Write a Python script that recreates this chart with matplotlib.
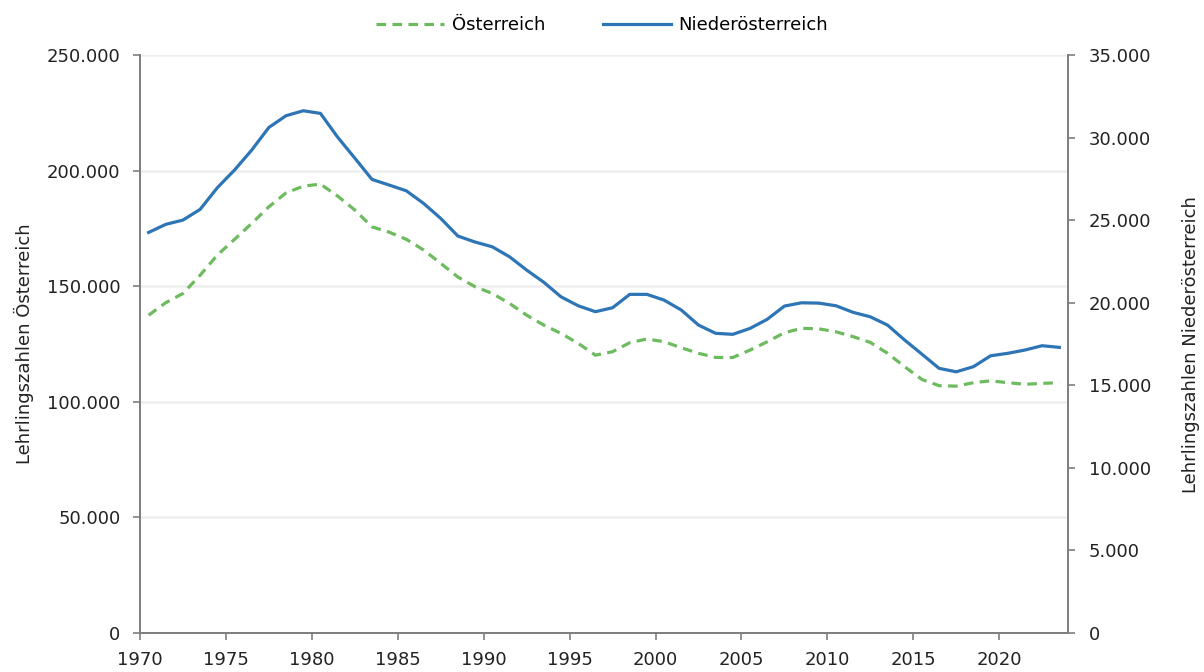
import matplotlib
matplotlib.use("Agg")
import matplotlib.pyplot as plt
from matplotlib.ticker import FuncFormatter, MultipleLocator

years = list(range(1970, 2024))

# Lehrlinge Österreich (linke Achse)
oesterreich = [
    137500, 142900, 146900, 154800, 163500, 170300, 177200, 184400, 190400, 193300,
    194200, 189000, 183000, 175700, 173400, 170300, 165700, 159900, 154000, 149800,
    146900, 142600, 137500, 133200, 129600, 125300, 120200, 121700, 125600, 127200,
    126000, 123400, 121000, 119200, 119200, 122400, 126000, 129900, 131800, 131600,
    130300, 128200, 125700, 121000, 115200, 109700, 107000, 106800, 108300, 109100,
    108300, 107600, 108000, 108300,
]

# Lehrlinge Niederösterreich (rechte Achse)
niederoesterreich = [
    24260, 24750, 25010, 25660, 26970, 28040, 29250, 30620, 31330, 31630,
    31470, 30030, 28760, 27470, 27130, 26780, 26020, 25110, 24040, 23680,
    23390, 22790, 21980, 21240, 20360, 19820, 19460, 19700, 20510, 20510,
    20160, 19560, 18650, 18150, 18090, 18450, 19000, 19800, 20000, 19980,
    19820, 19420, 19150, 18650, 17740, 16890, 16030, 15820, 16130, 16790,
    16940, 17140, 17400, 17300,
]

green = "#6dbb5f"
blue = "#2e75b6"
axis_grey = "#7f7f7f"


def dot_thousands(v, pos):
    return f"{int(round(v)):,}".replace(",", ".")


plt.rcParams["font.family"] = ["DejaVu Sans"]
plt.rcParams["font.size"] = 13

fig = plt.figure(figsize=(12.04, 6.72), dpi=100)
ax = fig.add_axes([0.1163, 0.058, 0.7707, 0.860])
ax2 = ax.twinx()

xs = [y + 0.5 for y in years]
l1, = ax.plot(xs, oesterreich, color=green, lw=2.3, linestyle=(0, (3, 2)),
              label="Österreich")
l2, = ax2.plot(xs, niederoesterreich, color=blue, lw=2.3, label="Niederösterreich")

ax.set_xlim(1970, 2024)
ax.set_ylim(0, 250000)
ax2.set_ylim(0, 35000)
ax.xaxis.set_major_locator(MultipleLocator(5))
ax.yaxis.set_major_locator(MultipleLocator(50000))
ax2.yaxis.set_major_locator(MultipleLocator(5000))
ax.yaxis.set_major_formatter(FuncFormatter(dot_thousands))
ax2.yaxis.set_major_formatter(FuncFormatter(dot_thousands))
ax.xaxis.set_major_formatter(FuncFormatter(lambda v, p: f"{int(v)}"))

ax.grid(axis="y", color="#eeeeee", lw=1.8)
ax.set_axisbelow(True)

for a in (ax, ax2):
    a.spines["top"].set_visible(False)
    for s in ("left", "right", "bottom"):
        a.spines[s].set_color(axis_grey)
        a.spines[s].set_linewidth(1.3)
    a.tick_params(color=axis_grey, length=5, width=1.2, labelcolor="#222222")
ax.tick_params(axis="y", pad=9)
ax.tick_params(axis="x", pad=8)
ax2.tick_params(axis="y", pad=10)

ax.set_ylabel("Lehrlingszahlen Österreich", color="#222222", labelpad=9)
ax2.set_ylabel("Lehrlingszahlen Niederösterreich", color="#222222", labelpad=22)

fig.legend(handles=[l1, l2], loc="upper center", bbox_to_anchor=(0.5, 1.0),
           ncol=2, frameon=False, handlelength=3.8, handletextpad=0.4,
           columnspacing=3.2, fontsize=13)

fig.savefig("out.png", dpi=100)
